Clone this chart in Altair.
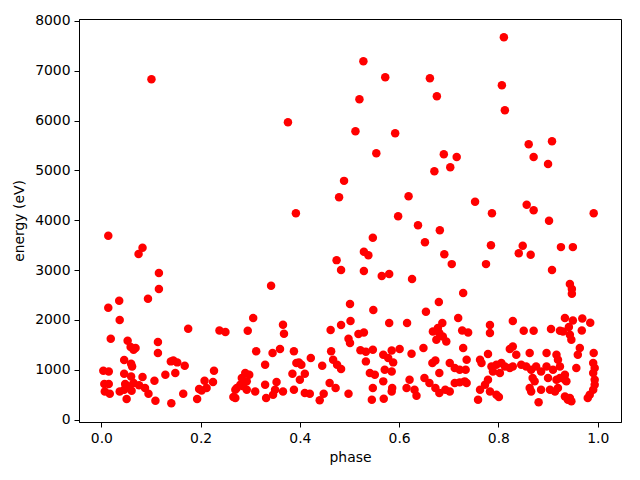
import altair as alt
import pandas as pd

phase = [
    0.101, 0.376, 0.811, 0.528, 0.572, 0.662, 0.807, 0.520, 0.676, 0.813,
    0.512, 0.592, 0.554, 0.690, 0.716, 0.703, 0.671, 0.861, 0.908, 0.871,
    0.900, 0.489, 0.479, 0.392, 0.014, 0.083, 0.075, 0.474, 0.483, 0.116,
    0.342, 0.116, 0.094, 0.036, 0.014, 0.037, 0.501, 0.306, 0.175, 0.238,
    0.250, 0.295, 0.366, 0.368, 0.462, 0.483, 0.619, 0.753, 0.857, 0.871,
    0.787, 0.992, 0.902, 0.598, 0.638, 0.682, 0.547, 0.652, 0.785, 0.849,
    0.926, 0.950, 0.841, 0.865, 0.529, 0.538, 0.691, 0.706, 0.775, 0.529,
    0.565, 0.580, 0.626, 0.908, 0.944, 0.948, 0.948, 0.729, 0.680, 0.548,
    0.654, 0.719, 0.502, 0.580, 0.616, 0.829, 0.783, 0.934, 0.950, 0.969,
    0.985, 0.942, 0.968, 0.906, 0.924, 0.851, 0.871, 0.678, 0.687, 0.727,
    0.739, 0.783, 0.529, 0.518,
    0.019, 0.053, 0.059, 0.065, 0.069, 0.114, 0.114, 0.046, 0.060, 0.062,
    0.004, 0.015, 0.046, 0.060, 0.083, 0.107, 0.129, 0.140, 0.006, 0.015,
    0.048, 0.054, 0.065, 0.076, 0.088, 0.007, 0.017, 0.037, 0.046, 0.051,
    0.061, 0.095, 0.109, 0.141,
    0.312, 0.145, 0.153, 0.168, 0.149, 0.227, 0.208, 0.225, 0.197, 0.202,
    0.212, 0.165, 0.193, 0.290, 0.298, 0.283, 0.293, 0.280, 0.273, 0.270,
    0.286, 0.293, 0.310, 0.266, 0.270, 0.330, 0.332,
    0.498, 0.501, 0.345, 0.360, 0.388, 0.330, 0.393, 0.403, 0.398, 0.422,
    0.445, 0.463, 0.467, 0.475, 0.483, 0.385, 0.410, 0.400, 0.353, 0.350,
    0.366, 0.346, 0.388, 0.410, 0.420, 0.460, 0.472, 0.448, 0.440, 0.498,
    0.668, 0.681, 0.688, 0.695, 0.675, 0.522, 0.533, 0.547, 0.568, 0.585,
    0.601, 0.625, 0.649, 0.533, 0.578, 0.588, 0.541, 0.551, 0.571, 0.585,
    0.568, 0.547, 0.545, 0.569, 0.586, 0.585, 0.615, 0.621, 0.631, 0.635,
    0.651, 0.661, 0.673, 0.681, 0.667, 0.673, 0.681, 0.702, 0.712, 0.722,
    0.734, 0.736, 0.693, 0.702, 0.712, 0.722, 0.736,
    0.729, 0.779, 0.823, 0.829, 0.836, 0.863, 0.897, 0.917, 0.920, 0.763,
    0.766, 0.786, 0.796, 0.806, 0.813, 0.789, 0.803, 0.823, 0.829, 0.846,
    0.856, 0.866, 0.876, 0.886, 0.897, 0.910, 0.924, 0.732, 0.779, 0.773,
    0.763, 0.759, 0.783, 0.796, 0.801, 0.869, 0.873, 0.900, 0.917, 0.924,
    0.934, 0.863, 0.866, 0.886, 0.904, 0.914, 0.920, 0.881, 0.934, 0.940,
    0.930, 0.944, 0.947, 0.964, 0.960, 0.992, 0.957, 0.991, 0.994, 0.991,
    0.934, 0.937, 0.994, 0.994, 0.991, 0.984, 0.980, 0.944, 0.947,
]

energy = [
    6828, 5966, 7670, 7188, 6868, 6848, 6707, 6427, 6487, 6206,
    5786, 5746, 5345, 5325, 5271, 5064, 4984, 5525, 5585, 5271,
    5130, 4790, 4463, 4142, 3687, 3447, 3321, 3200, 3000, 2940,
    2685, 2619, 2425, 2385, 2245, 1998, 2319, 2038, 1824, 1790,
    1757, 1784, 1904, 1723, 1797, 1898, 4483, 4369, 4309, 4202,
    4142, 4142, 3988, 4082, 3901, 3801, 3647, 3560, 3500, 3487,
    3461, 3461, 3340, 3307, 3367, 3300, 3320, 3120, 3120, 2980,
    2880, 2920, 2820, 3000, 2720, 2619, 2525, 2539, 2359, 2198,
    2164, 2038, 1978, 1938, 1938, 1978, 1898, 2038, 1990, 2030,
    1944, 1858, 1790, 1818, 1784, 1784, 1784, 1838, 1938, 1790,
    1750, 1737, 1750, 1717,
    1623, 1583, 1457, 1403, 1437, 1557, 1337, 1196, 1122, 1068,
    982, 968, 922, 868, 855, 782, 902, 1169, 715, 715,
    715, 668, 735, 688, 635, 567, 521, 567, 601, 415,
    581, 521, 381, 330,
    1370, 1189, 1149, 1082, 935, 982, 782, 755, 615, 587,
    635, 521, 415, 935, 902, 835, 768, 701, 635, 601,
    668, 601, 567, 455, 434, 701, 434,
    1623, 1537, 1337, 1417, 1370, 1102, 1136, 1102, 1149, 1236,
    1082, 1370, 1202, 1102, 1016, 922, 922, 802, 755, 601,
    567, 501, 601, 534, 521, 735, 635, 521, 387, 521,
    1770, 1737, 1670, 1570, 1603, 1390, 1360, 1400, 1303, 1389,
    1417, 1323, 1436, 1169, 1236, 1149, 935, 902, 1002, 968,
    768, 635, 401, 421, 635, 567, 635, 802, 601, 481,
    835, 735, 635, 534, 1136, 1189, 935, 1136, 1036, 1002,
    1002, 1202, 601, 567, 735, 748, 735,
    1436, 1316, 1417, 1469, 1303, 1337, 1337, 1303, 1202, 1202,
    1136, 1068, 1102, 1136, 1068, 968, 935, 1036, 1068, 1102,
    1068, 1002, 1068, 968, 1068, 1002, 1068, 768, 802, 701,
    601, 401, 567, 501, 455, 835, 768, 835, 802, 835,
    902, 635, 567, 601, 601, 567, 635, 347, 467, 401,
    1770, 1703, 1603, 1436, 1303, 1337, 1036, 1136, 1036, 935,
    802, 768, 802, 701, 601, 501, 434, 434, 367,
]

x_ticks = [0.0, 0.2, 0.4, 0.6, 0.8, 1.0]
y_ticks = [0, 1000, 2000, 3000, 4000, 5000, 6000, 7000, 8000]

df = pd.DataFrame({"phase": phase, "energy": energy})

FONT = "DejaVu Sans"

chart = (
    alt.Chart(df)
    .mark_circle(color="#ff0000", opacity=1, size=72)
    .encode(
        x=alt.X(
            "phase:Q",
            scale=alt.Scale(domain=[-0.045, 1.047], nice=False, zero=False),
            axis=alt.Axis(
                title="phase",
                values=x_ticks,
                format=".1f",
                grid=False,
                tickSize=5,
                labelPadding=4,
                titlePadding=6,
            ),
        ),
        y=alt.Y(
            "energy:Q",
            scale=alt.Scale(domain=[-47, 8037], nice=False, zero=False),
            axis=alt.Axis(
                title="energy (eV)",
                values=y_ticks,
                format="d",
                grid=False,
                tickSize=5,
                labelPadding=4,
                titlePadding=8,
            ),
        ),
    )
    .properties(
        width=542,
        height=403,
        autosize=alt.AutoSizeParams(type="none"),
        padding={"left": 71, "top": 11, "right": 9, "bottom": 49},
    )
    .configure_view(stroke="black", strokeWidth=1)
    .configure_axis(
        labelFont=FONT,
        titleFont=FONT,
        labelFontSize=13.9,
        titleFontSize=13.9,
        titleFontWeight="normal",
        labelColor="black",
        titleColor="black",
        domainColor="black",
        tickColor="black",
        domainWidth=1,
        tickWidth=1,
    )
)

chart.save("out.html", embed_options={"renderer": "svg", "actions": False})
